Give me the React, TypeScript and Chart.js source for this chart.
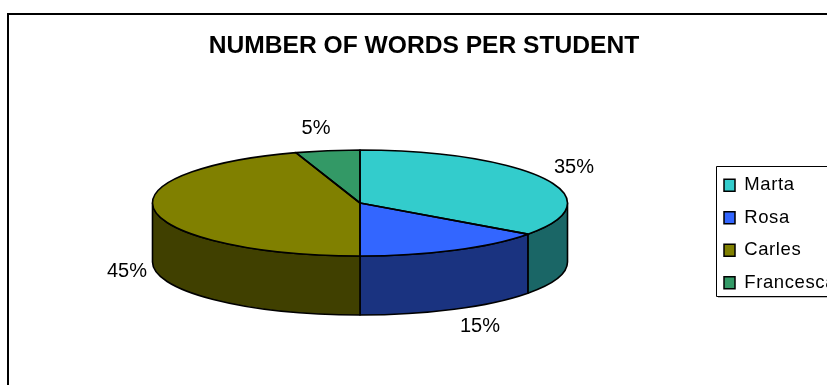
import React, { useEffect, useRef } from "react";
import { Chart, registerables } from "chart.js";

Chart.register(...registerables);

const students = ["Marta", "Rosa", "Carles", "Francesca"];
const words = [35, 15, 45, 5];
const topColors = ["#33CCCC", "#3366FF", "#808000", "#339966"];
const wallColors = ["#1A6666", "#1A3380", "#404000", "#1A4D33"];
const percentLabelPositions = [
  [574, 167],
  [480, 326],
  [127, 271],
  [316, 128],
];

const FONT = "'Liberation Sans', Arial, sans-serif";
const TITLE_SIZE = 24.6;
const CX = 360;
const CY = 203;
const RX = 207.5;
const RY = 53;
const DEPTH = 59;

const pie3d = {
  id: "pie3d",
  afterLayout(chart: any) {
    const t = chart.titleBlock;
    t.left = 8;
    t.right = 840;
    t.top = 46 - (TITLE_SIZE * 1.2) / 2;
    const l = chart.legend;
    l.left = 710;
    l.right = 1000;
    l.top = 162;
    l.bottom = 400;
    if (!l._spaced) {
      l._spaced = true;
      const drawLegend = l.draw;
      l.draw = function (...args: any[]) {
        const ctx = chart.ctx;
        ctx.save();
        ctx.letterSpacing = "0.6px";
        drawLegend.apply(this, args);
        ctx.restore();
      };
    }
  },
  beforeDraw(chart: any) {
    const ctx = chart.ctx;
    ctx.save();
    ctx.strokeStyle = "#000";
    ctx.lineWidth = 2;
    ctx.beginPath();
    ctx.moveTo(8, 400);
    ctx.lineTo(8, 14);
    ctx.lineTo(840, 14);
    ctx.stroke();
    ctx.fillStyle = "#bbb";
    ctx.fillRect(718, 297, 120, 1);
    ctx.fillStyle = "#fff";
    ctx.strokeStyle = "#000";
    ctx.lineWidth = 1;
    ctx.beginPath();
    ctx.rect(716.5, 166.5, 130, 130);
    ctx.fill();
    ctx.stroke();
    ctx.restore();
  },
  beforeDatasetsDraw(chart: any) {
    const ctx = chart.ctx;
    const arcs = chart.getDatasetMeta(0).data;
    ctx.save();
    ctx.strokeStyle = "#000";
    ctx.lineWidth = 1.6;
    ctx.lineJoin = "round";
    arcs.forEach((arc: any, i: number) => {
      const a0 = Math.max(arc.startAngle, 0);
      const a1 = Math.min(arc.endAngle, Math.PI);
      if (a1 <= a0) return;
      ctx.beginPath();
      ctx.ellipse(CX, CY, RX, RY, 0, a0, a1);
      ctx.ellipse(CX, CY + DEPTH, RX, RY, 0, a1, a0, true);
      ctx.closePath();
      ctx.fillStyle = wallColors[i];
      ctx.fill();
      ctx.stroke();
    });
    ctx.restore();
    const first = arcs[0];
    const s = first.outerRadius;
    ctx.save();
    ctx.translate(CX, CY);
    ctx.scale(RX / s, RY / s);
    ctx.translate(-first.x, -first.y);
  },
  afterDatasetsDraw(chart: any) {
    const ctx = chart.ctx;
    ctx.restore();
    const arcs = chart.getDatasetMeta(0).data;
    ctx.save();
    ctx.strokeStyle = "#000";
    ctx.lineWidth = 1.6;
    ctx.lineJoin = "round";
    arcs.forEach((arc: any) => {
      ctx.beginPath();
      ctx.moveTo(CX, CY);
      ctx.ellipse(CX, CY, RX, RY, 0, arc.startAngle, arc.endAngle);
      ctx.closePath();
      ctx.stroke();
    });
    ctx.fillStyle = "#000";
    ctx.font = `20px ${FONT}`;
    ctx.textAlign = "center";
    ctx.textBaseline = "middle";
    const total = words.reduce((a, b) => a + b, 0);
    words.forEach((v, i) => {
      const [x, y] = percentLabelPositions[i];
      ctx.fillText(`${Math.round((v / total) * 100)}%`, x, y);
    });
    ctx.restore();
  },
};

export default function App() {
  const ref = useRef<HTMLCanvasElement>(null);
  useEffect(() => {
    document.body.style.margin = "0";
    const chart = new Chart(ref.current!, {
      type: "pie",
      data: {
        labels: students,
        datasets: [
          {
            data: words,
            backgroundColor: topColors,
            borderWidth: 0,
            clip: false,
          } as any,
        ],
      },
      plugins: [pie3d],
      options: {
        responsive: false,
        animation: false,
        devicePixelRatio: 1,
        plugins: {
          tooltip: { enabled: false },
          title: {
            display: true,
            text: "NUMBER OF WORDS PER STUDENT",
            color: "#000",
            padding: 0,
            font: { family: FONT, size: TITLE_SIZE, weight: "bold" },
          },
          legend: {
            display: true,
            position: "right",
            align: "start",
            labels: {
              color: "#000",
              boxWidth: 11,
              boxHeight: 12,
              padding: 14,
              font: { family: FONT, size: 18.5 },
              generateLabels(c: any) {
                const base = (Chart as any).overrides.pie.plugins.legend.labels.generateLabels(c);
                return base.map((b: any) => ({ ...b, strokeStyle: "#000", lineWidth: 1.5 }));
              },
            },
          },
        },
      } as any,
    });
    return () => chart.destroy();
  }, []);
  return <canvas ref={ref} width={827} height={385} style={{ display: "block" }} />;
}
